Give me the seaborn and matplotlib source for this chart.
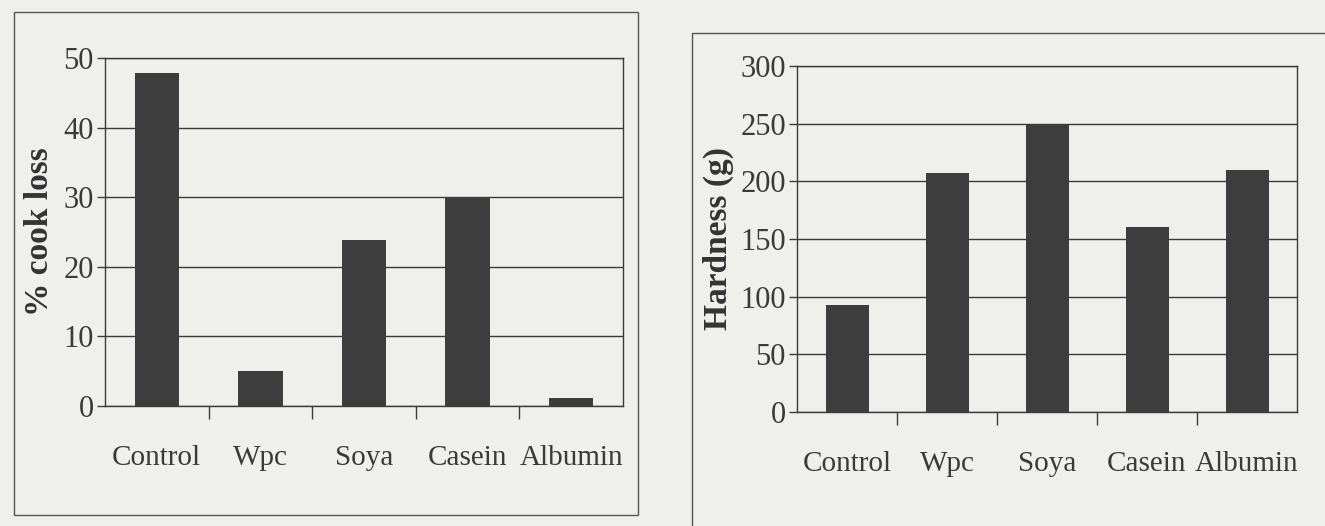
import matplotlib
matplotlib.use("Agg")
import matplotlib.pyplot as plt
from matplotlib.patches import Rectangle
from matplotlib.ticker import MultipleLocator, FixedLocator, NullFormatter
import seaborn as sns
import pandas as pd

# data
categories = ["Control", "Wpc", "Soya", "Casein", "Albumin"]
cook_loss = [47.8, 5.0, 23.8, 30.0, 1.2]
hardness = [93, 207, 249, 160, 210]

sns.set_style("ticks")
plt.rcParams['font.family'] = ['Liberation Serif', 'DejaVu Serif']

paper = "#efefec"
ink = "#3a3a3a"
bar_col = "#3d3d3d"

fig = plt.figure(figsize=(13.25, 5.26), dpi=100, facecolor=paper)

# frames around each panel (from the printed page)
fig.patches.append(Rectangle((14 / 1325, 1 - 515 / 526), 624 / 1325, 503 / 526,
                             transform=fig.transFigure, fill=False, lw=1.0, ec="#555555"))
fig.patches.append(Rectangle((692 / 1325, -0.05), 0.5, 1.05 - 33 / 526,
                             transform=fig.transFigure, fill=False, lw=1.0, ec="#555555"))

ax1 = fig.add_axes([105 / 1325, 1 - 406 / 526, 518 / 1325, 348 / 526])
ax2 = fig.add_axes([797 / 1325, 1 - 412 / 526, 500 / 1325, 346 / 526])


def draw_panel(ax, values, ylabel, ymax, step, lab_x):
    df = pd.DataFrame({"cat": categories, "val": values})
    sns.barplot(data=df, x="cat", y="val", color=bar_col, width=0.43,
                saturation=1, ax=ax, zorder=3, edgecolor=bar_col, linewidth=0)
    ax.set_facecolor(paper)
    ax.set_ylim(0, ymax)
    ax.set_xlim(-0.5, len(categories) - 0.5)
    ax.yaxis.set_major_locator(MultipleLocator(step))
    ax.grid(axis="y", color=ink, lw=1.0, zorder=0)
    ax.set_axisbelow(True)
    for s in ax.spines.values():
        s.set_color(ink)
        s.set_linewidth(1.0)
    # ticks between the categories, labels under the bars
    ax.tick_params(axis="x", which="major", length=0, pad=28, labelsize=21, colors=ink)
    ax.xaxis.set_minor_locator(FixedLocator([0.5, 1.5, 2.5, 3.5]))
    ax.xaxis.set_minor_formatter(NullFormatter())
    ax.tick_params(axis="x", which="minor", direction="out", length=9, width=1.0, color=ink)
    ax.tick_params(axis="y", direction="out", length=6, width=1.0, pad=2,
                   labelsize=22, colors=ink)
    ax.set_xlabel("")
    ax.set_ylabel("")
    fig.text(lab_x, ax.get_position().y0 + ax.get_position().height / 2, ylabel,
             rotation=90, ha="center", va="center", fontsize=24,
             fontweight="bold", color="#333333")


draw_panel(ax1, cook_loss, "% cook loss", 50, 10, 40 / 1325)
draw_panel(ax2, hardness, "Hardness (g)", 300, 50, 718 / 1325)

fig.savefig("out.png", dpi=100, facecolor=paper)
